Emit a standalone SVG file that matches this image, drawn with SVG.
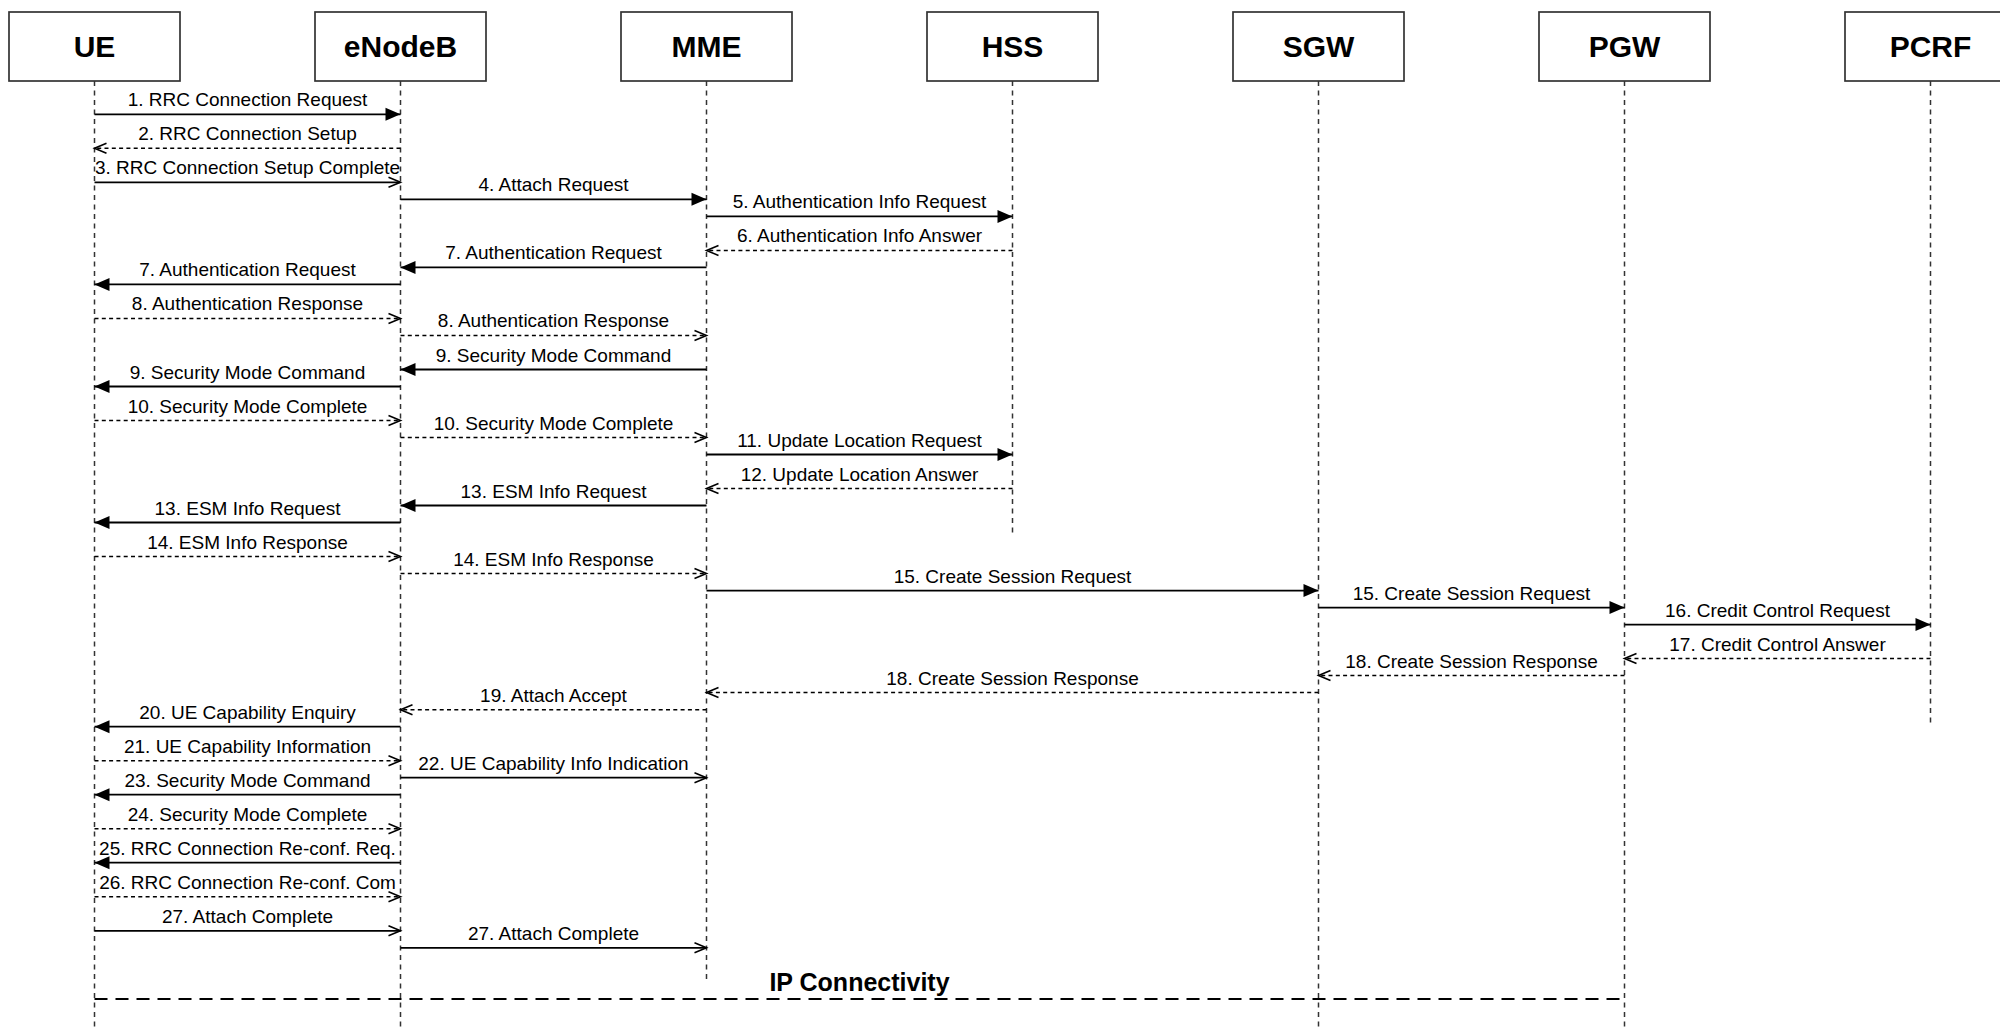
<svg xmlns="http://www.w3.org/2000/svg" width="2000" height="1030" viewBox="0 0 2000 1030">
<defs>
<style>
.box{fill:#fff;stroke:#333;stroke-width:1.7}
.title{font-family:"Liberation Sans",Arial,sans-serif;font-weight:bold;font-size:30px;text-anchor:middle;fill:#000}
.life{stroke:#333;stroke-width:1.5;stroke-dasharray:5 4.5;fill:none}
.sync{stroke:#000;stroke-width:1.8;fill:none;marker-end:url(#filled)}
.async{stroke:#000;stroke-width:1.8;fill:none;marker-end:url(#open)}
.reply{stroke:#000;stroke-width:1.5;stroke-dasharray:4 3.3;fill:none;marker-end:url(#open)}
.lbl{font-family:"Liberation Sans",Arial,sans-serif;font-size:19px;text-anchor:middle;fill:#000}
.ip{stroke:#000;stroke-width:1.8;stroke-dasharray:13 8;fill:none}
.iplbl{font-family:"Liberation Sans",Arial,sans-serif;font-weight:bold;font-size:25px;text-anchor:middle;fill:#000}
</style>
<marker id="filled" markerUnits="userSpaceOnUse" markerWidth="16" markerHeight="14" refX="15" refY="6.5" orient="auto" overflow="visible">
<path d="M0,0 L15,6.5 L0,13 Z" fill="#000" stroke="none"/>
</marker>
<marker id="open" markerUnits="userSpaceOnUse" markerWidth="14" markerHeight="12" refX="12" refY="5" orient="auto" overflow="visible">
<path d="M0,0 L12,5 L0,10" fill="none" stroke="#000" stroke-width="1.6"/>
</marker>
</defs>
<rect width="2000" height="1030" fill="#fff"/>

<g id="lifelines">
<line class="life" x1="94.5" y1="81" x2="94.5" y2="1030"/>
<line class="life" x1="400.5" y1="81" x2="400.5" y2="1030"/>
<line class="life" x1="706.5" y1="81" x2="706.5" y2="982"/>
<line class="life" x1="1012.5" y1="81" x2="1012.5" y2="534"/>
<line class="life" x1="1318.5" y1="81" x2="1318.5" y2="1030"/>
<line class="life" x1="1624.5" y1="81" x2="1624.5" y2="1030"/>
<line class="life" x1="1930.5" y1="81" x2="1930.5" y2="727"/>
</g>

<g id="node-UE"><rect class="box" x="9" y="12" width="171" height="69"/><text class="title" x="94.5" y="57">UE</text></g>
<g id="node-eNodeB"><rect class="box" x="315" y="12" width="171" height="69"/><text class="title" x="400.5" y="57">eNodeB</text></g>
<g id="node-MME"><rect class="box" x="621" y="12" width="171" height="69"/><text class="title" x="706.5" y="57">MME</text></g>
<g id="node-HSS"><rect class="box" x="927" y="12" width="171" height="69"/><text class="title" x="1012.5" y="57">HSS</text></g>
<g id="node-SGW"><rect class="box" x="1233" y="12" width="171" height="69"/><text class="title" x="1318.5" y="57">SGW</text></g>
<g id="node-PGW"><rect class="box" x="1539" y="12" width="171" height="69"/><text class="title" x="1624.5" y="57">PGW</text></g>
<g id="node-PCRF"><rect class="box" x="1845" y="12" width="171" height="69"/><text class="title" x="1930.5" y="57">PCRF</text></g>

<g id="connectors">
<line class="sync" x1="94.5" y1="114.3" x2="400.5" y2="114.3"/>
<line class="reply" x1="400.5" y1="148.3" x2="94.5" y2="148.3"/>
<line class="async" x1="94.5" y1="182.3" x2="400.5" y2="182.3"/>
<line class="sync" x1="400.5" y1="199.3" x2="706.5" y2="199.3"/>
<line class="sync" x1="706.5" y1="216.4" x2="1012.5" y2="216.4"/>
<line class="reply" x1="1012.5" y1="250.4" x2="706.5" y2="250.4"/>
<line class="sync" x1="706.5" y1="267.4" x2="400.5" y2="267.4"/>
<line class="sync" x1="400.5" y1="284.4" x2="94.5" y2="284.4"/>
<line class="reply" x1="94.5" y1="318.4" x2="400.5" y2="318.4"/>
<line class="reply" x1="400.5" y1="335.4" x2="706.5" y2="335.4"/>
<line class="sync" x1="706.5" y1="369.5" x2="400.5" y2="369.5"/>
<line class="sync" x1="400.5" y1="386.5" x2="94.5" y2="386.5"/>
<line class="reply" x1="94.5" y1="420.5" x2="400.5" y2="420.5"/>
<line class="reply" x1="400.5" y1="437.5" x2="706.5" y2="437.5"/>
<line class="sync" x1="706.5" y1="454.5" x2="1012.5" y2="454.5"/>
<line class="reply" x1="1012.5" y1="488.5" x2="706.5" y2="488.5"/>
<line class="sync" x1="706.5" y1="505.5" x2="400.5" y2="505.5"/>
<line class="sync" x1="400.5" y1="522.5" x2="94.5" y2="522.5"/>
<line class="reply" x1="94.5" y1="556.6" x2="400.5" y2="556.6"/>
<line class="reply" x1="400.5" y1="573.6" x2="706.5" y2="573.6"/>
<line class="sync" x1="706.5" y1="590.6" x2="1318.5" y2="590.6"/>
<line class="sync" x1="1318.5" y1="607.6" x2="1624.5" y2="607.6"/>
<line class="sync" x1="1624.5" y1="624.6" x2="1930.5" y2="624.6"/>
<line class="reply" x1="1930.5" y1="658.6" x2="1624.5" y2="658.6"/>
<line class="reply" x1="1624.5" y1="675.6" x2="1318.5" y2="675.6"/>
<line class="reply" x1="1318.5" y1="692.6" x2="706.5" y2="692.6"/>
<line class="reply" x1="706.5" y1="709.7" x2="400.5" y2="709.7"/>
<line class="sync" x1="400.5" y1="726.7" x2="94.5" y2="726.7"/>
<line class="reply" x1="94.5" y1="760.7" x2="400.5" y2="760.7"/>
<line class="async" x1="400.5" y1="777.7" x2="706.5" y2="777.7"/>
<line class="sync" x1="400.5" y1="794.7" x2="94.5" y2="794.7"/>
<line class="reply" x1="94.5" y1="828.7" x2="400.5" y2="828.7"/>
<line class="sync" x1="400.5" y1="862.7" x2="94.5" y2="862.7"/>
<line class="reply" x1="94.5" y1="896.8" x2="400.5" y2="896.8"/>
<line class="async" x1="94.5" y1="930.8" x2="400.5" y2="930.8"/>
<line class="async" x1="400.5" y1="947.8" x2="706.5" y2="947.8"/>
<line class="ip" x1="94.5" y1="999" x2="1624.5" y2="999"/>
</g>

<g id="labels">
<text class="lbl" x="247.5" y="106.3">1. RRC Connection Request</text>
<text class="lbl" x="247.5" y="140.3">2. RRC Connection Setup</text>
<text class="lbl" x="247.5" y="174.3">3. RRC Connection Setup Complete</text>
<text class="lbl" x="553.5" y="191.3">4. Attach Request</text>
<text class="lbl" x="859.5" y="208.4">5. Authentication Info Request</text>
<text class="lbl" x="859.5" y="242.4">6. Authentication Info Answer</text>
<text class="lbl" x="553.5" y="259.4">7. Authentication Request</text>
<text class="lbl" x="247.5" y="276.4">7. Authentication Request</text>
<text class="lbl" x="247.5" y="310.4">8. Authentication Response</text>
<text class="lbl" x="553.5" y="327.4">8. Authentication Response</text>
<text class="lbl" x="553.5" y="361.5">9. Security Mode Command</text>
<text class="lbl" x="247.5" y="378.5">9. Security Mode Command</text>
<text class="lbl" x="247.5" y="412.5">10. Security Mode Complete</text>
<text class="lbl" x="553.5" y="429.5">10. Security Mode Complete</text>
<text class="lbl" x="859.5" y="446.5">11. Update Location Request</text>
<text class="lbl" x="859.5" y="480.5">12. Update Location Answer</text>
<text class="lbl" x="553.5" y="497.5">13. ESM Info Request</text>
<text class="lbl" x="247.5" y="514.5">13. ESM Info Request</text>
<text class="lbl" x="247.5" y="548.6">14. ESM Info Response</text>
<text class="lbl" x="553.5" y="565.6">14. ESM Info Response</text>
<text class="lbl" x="1012.5" y="582.6">15. Create Session Request</text>
<text class="lbl" x="1471.5" y="599.6">15. Create Session Request</text>
<text class="lbl" x="1777.5" y="616.6">16. Credit Control Request</text>
<text class="lbl" x="1777.5" y="650.6">17. Credit Control Answer</text>
<text class="lbl" x="1471.5" y="667.6">18. Create Session Response</text>
<text class="lbl" x="1012.5" y="684.6">18. Create Session Response</text>
<text class="lbl" x="553.5" y="701.7">19. Attach Accept</text>
<text class="lbl" x="247.5" y="718.7">20. UE Capability Enquiry</text>
<text class="lbl" x="247.5" y="752.7">21. UE Capability Information</text>
<text class="lbl" x="553.5" y="769.7">22. UE Capability Info Indication</text>
<text class="lbl" x="247.5" y="786.7">23. Security Mode Command</text>
<text class="lbl" x="247.5" y="820.7">24. Security Mode Complete</text>
<text class="lbl" x="247.5" y="854.7">25. RRC Connection Re-conf. Req.</text>
<text class="lbl" x="247.5" y="888.8">26. RRC Connection Re-conf. Com</text>
<text class="lbl" x="247.5" y="922.8">27. Attach Complete</text>
<text class="lbl" x="553.5" y="939.8">27. Attach Complete</text>
<text class="iplbl" x="859.5" y="991">IP Connectivity</text>
</g>
</svg>
